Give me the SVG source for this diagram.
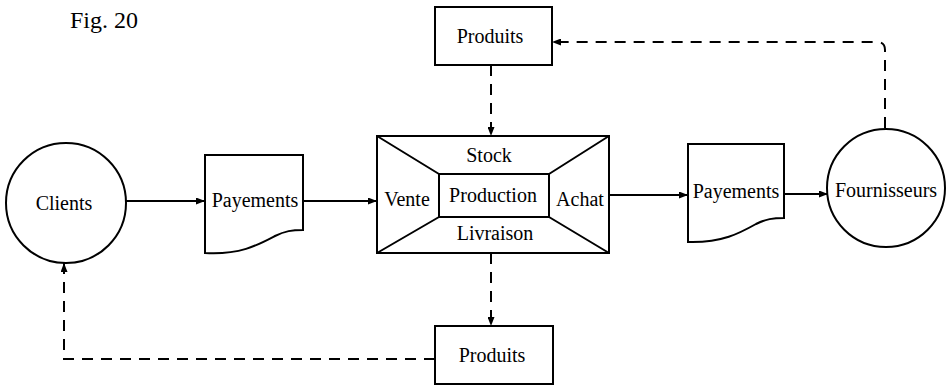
<svg xmlns="http://www.w3.org/2000/svg" width="947" height="388" viewBox="0 0 947 388">
  <defs>
    <marker id="arrow" markerUnits="userSpaceOnUse" markerWidth="9" markerHeight="7" refX="9" refY="3.5" orient="auto">
      <path d="M0,0 L9,3.5 L0,7 z" fill="#000"/>
    </marker>
    <style>
      .shape { fill: #fff; stroke: #000; stroke-width: 2; }
      .inner { fill: none; stroke: #000; stroke-width: 2; }
      .label { font-family: "Liberation Serif", "Times New Roman", serif; font-size: 20px; fill: #000; text-anchor: middle; }
      .solid { fill: none; stroke: #000; stroke-width: 2; marker-end: url(#arrow); }
      .dashed { fill: none; stroke: #000; stroke-width: 2; stroke-dasharray: 11 8; marker-end: url(#arrow); }
    </style>
  </defs>

  <rect width="947" height="388" fill="#fff"/>

  <text x="70" y="28" font-family="'Liberation Serif', 'Times New Roman', serif" font-size="24" fill="#000">Fig. 20</text>

  <g id="connectors">
    <path class="solid" d="M126,201 H205"/>
    <path class="solid" d="M303,201 H377"/>
    <path class="solid" d="M609,195 H688"/>
    <path class="solid" d="M784,194 H828"/>
    <path class="dashed" d="M885,128 V50 Q885,42 877,42 H552"/>
    <path class="dashed" d="M491,65 V136"/>
    <path class="dashed" d="M491,253 V326"/>
    <path class="dashed" d="M435,359 H64 V263"/>
  </g>

  <g id="clients">
    <circle class="shape" cx="66" cy="203" r="60"/>
    <text class="label" x="64" y="210">Clients</text>
  </g>

  <g id="payements-in">
    <path class="shape" d="M205,155 H303 V230 C292,230 285,231 275,236 C258,245 240,255 205,253 Z"/>
    <text class="label" x="255" y="207">Payements</text>
  </g>

  <g id="entreprise">
    <rect class="shape" x="377" y="136" width="232" height="117"/>
    <rect class="inner" x="439" y="174" width="110" height="43"/>
    <path class="inner" d="M377,136 L439,174 M609,136 L549,174 M377,253 L439,217 M609,253 L549,217"/>
    <text class="label" x="489" y="162">Stock</text>
    <text class="label" x="407" y="206">Vente</text>
    <text class="label" x="493" y="202">Production</text>
    <text class="label" x="580" y="206">Achat</text>
    <text class="label" x="495" y="240">Livraison</text>
  </g>

  <g id="produits-haut">
    <rect class="shape" x="435" y="7" width="117" height="58"/>
    <text class="label" x="490" y="43">Produits</text>
  </g>

  <g id="produits-bas">
    <rect class="shape" x="435" y="326" width="118" height="58"/>
    <text class="label" x="492" y="362">Produits</text>
  </g>

  <g id="payements-out">
    <path class="shape" d="M688,144 H784 V218 C773,218 766,219 756,224 C740,233 722,243 688,242 Z"/>
    <text class="label" x="736" y="198">Payements</text>
  </g>

  <g id="fournisseurs">
    <circle class="shape" cx="886" cy="188" r="59"/>
    <text class="label" x="886" y="197">Fournisseurs</text>
  </g>
</svg>
